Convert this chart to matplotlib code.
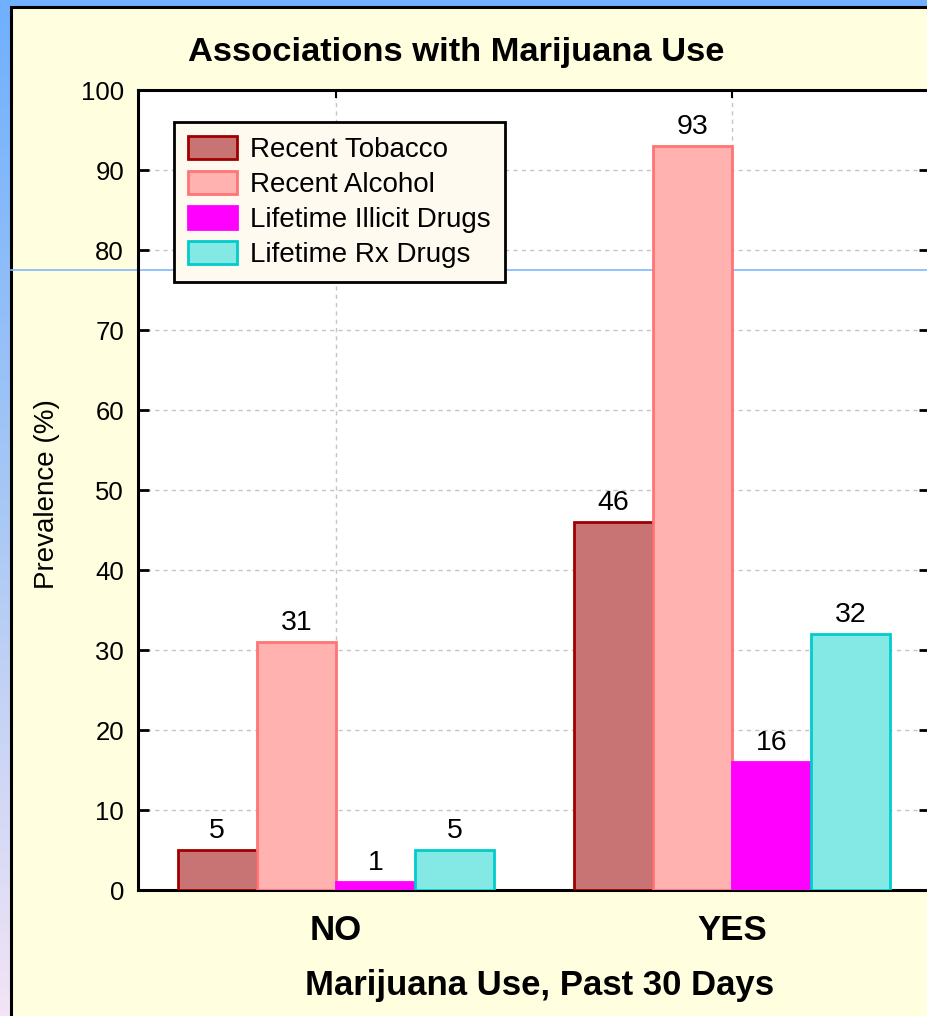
import numpy as np
import matplotlib
matplotlib.use("Agg")
import matplotlib.pyplot as plt
from matplotlib.patches import Rectangle
from matplotlib.colors import LinearSegmentedColormap

plt.rcParams['font.family'] = ['Liberation Sans', 'DejaVu Sans']

# Data
groups = ['NO', 'YES']
series = ['Recent Tobacco', 'Recent Alcohol', 'Lifetime Illicit Drugs', 'Lifetime Rx Drugs']
tobacco = [5, 46]
alcohol = [31, 93]
illicit = [1, 16]
rx_drugs = [5, 32]

# Styles
fills = ['#C87474', '#FFB2B0', '#FF00FF', '#84E8E4']
edges = ['#A00000', '#FF7474', '#FF00FF', '#00CCCC']

W, H = 928, 1016
fig = plt.figure(figsize=(W / 100, H / 100), dpi=100)

# slide background: vertical blue-to-lavender gradient
bg = fig.add_axes([0, 0, 1, 1], zorder=-10)
grad = LinearSegmentedColormap.from_list('bg', ['#70B0FF', '#A8C8F4', '#F2E4F6'])
bg.imshow(np.linspace(0, 1, 256).reshape(-1, 1), aspect='auto', cmap=grad,
          extent=[0, 1, 0, 1], origin='upper')
bg.add_patch(Rectangle((11 / W, -0.1), 2, 1 - 7 / H + 0.1, facecolor='#FFFFE0',
                       edgecolor='black', linewidth=2.2))
bg.set_xlim(0, 1)
bg.set_ylim(0, 1)
bg.axis('off')

ax = fig.add_axes([138 / W, 1 - 890 / H, 792 / W, 800 / H])
ax.set_facecolor('white')

x = np.arange(len(groups))
width = 0.2
values = [tobacco, alcohol, illicit, rx_drugs]
for i, (name, vals) in enumerate(zip(series, values)):
    pos = x + (i - 1.5) * width
    bars = ax.bar(pos, vals, width, color=fills[i], edgecolor=edges[i],
                  linewidth=2, label=name, zorder=3)
    for b, v in zip(bars, vals):
        ax.annotate(str(v), (b.get_x() + b.get_width() / 2, v),
                    xytext=(0, 4), textcoords='offset points',
                    ha='center', va='bottom', fontsize=20.5, zorder=4)

ax.set_xlim(-0.5, 1.5)
ax.set_ylim(0, 100)
ax.set_yticks(np.arange(0, 101, 10))
ax.set_xticks(x)
ax.set_xticklabels(groups, fontsize=25, fontweight='bold')

ax.grid(True, color='#C4C4C4', linestyle=(0, (3, 3)), linewidth=1, zorder=0)
ax.set_axisbelow(True)

ax.tick_params(axis='y', direction='in', length=8, width=2, labelsize=18.5,
               left=True, right=True, pad=10)
ax.tick_params(axis='x', direction='in', length=6, width=1.5, top=True,
               bottom=False, pad=17)
for side in ['left', 'bottom', 'top', 'right']:
    ax.spines[side].set_linewidth(2.2)

# thin blue rule running across the slide
ax.plot([-127 / 792, 1], [77.5, 77.5], transform=ax.get_yaxis_transform(),
        color='#80B8FF', linewidth=1.2, clip_on=False, zorder=1.5)

ax.set_ylabel('Prevalence (%)', fontsize=20)
ax.yaxis.set_label_coords(-(138 - 60) / 792, 0.495)

fig.text(456 / W, 1 - 52 / H, 'Associations with Marijuana Use', fontsize=24.8,
         fontweight='bold', ha='center', va='center')
fig.text(540 / W, 1 - 985 / H, 'Marijuana Use, Past 30 Days', fontsize=25,
         fontweight='bold', ha='center', va='center')

leg = ax.legend(loc='upper left', bbox_to_anchor=((174 - 138) / 792, 1 - (122 - 90) / 800),
                fontsize=20, frameon=True, fancybox=False, framealpha=1,
                handlelength=1.75, handleheight=0.9, handletextpad=0.5,
                labelspacing=0.28, borderpad=0.5, borderaxespad=0)
leg.get_frame().set_facecolor('#FFFAF0')
leg.get_frame().set_edgecolor('black')
leg.get_frame().set_linewidth(2)
leg.set_zorder(6)

fig.savefig('out.png', dpi=100)
